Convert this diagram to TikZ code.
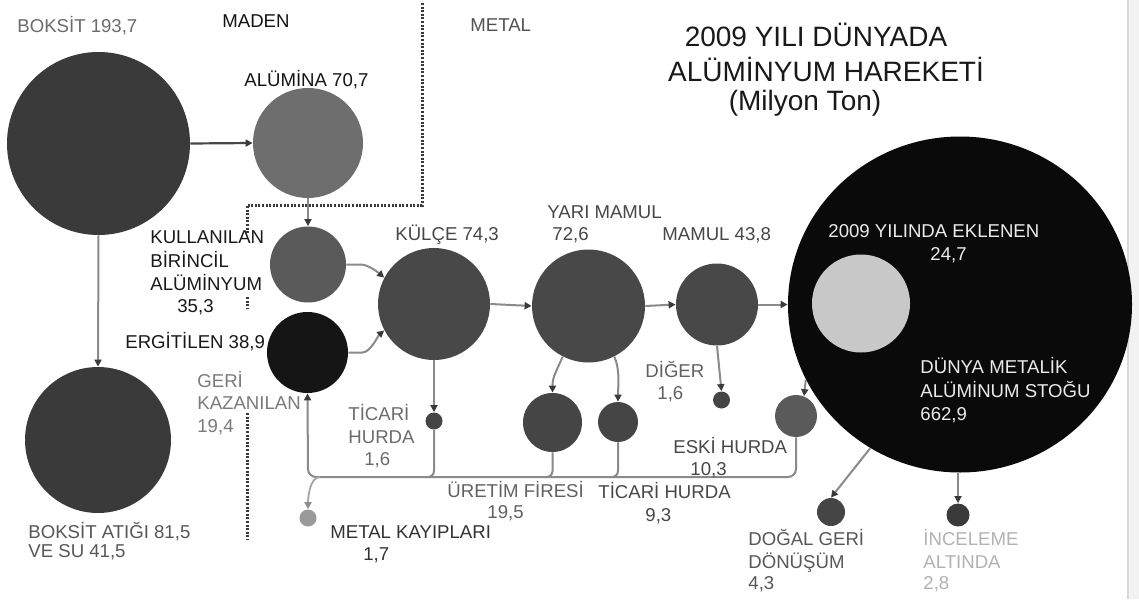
\documentclass[tikz,border=0pt]{standalone}
\usepackage{fontspec}
\setmainfont{Liberation Sans}
\usetikzlibrary{arrows.meta,shapes.geometric}
\definecolor{cBok}{HTML}{3A3A3A}
\definecolor{cAlu}{HTML}{6E6E6E}
\definecolor{cKul}{HTML}{5A5A5A}
\definecolor{cErg}{HTML}{151515}
\definecolor{cMid}{HTML}{484848}
\definecolor{cSmall}{HTML}{454545}
\definecolor{cEski}{HTML}{5A5A5A}
\definecolor{cLightB}{HTML}{9A9A9A}
\definecolor{cBlack}{HTML}{0A0A0A}
\definecolor{cInner}{HTML}{C8C8C8}
\definecolor{cConn}{HTML}{8A8A8A}
\definecolor{cTip}{HTML}{3A3A3A}
\definecolor{cDot}{HTML}{3A3A3A}
\begin{document}
\begin{tikzpicture}[x=0.5pt,y=-0.5pt,
  bub/.style={circle,inner sep=0pt,minimum size=#1pt,draw=none,fill=cSmall},
  lbl/.style={font=\fontsize{9.3}{11}\selectfont,inner sep=0pt,anchor=base west},
  ttl/.style={font=\fontsize{14}{16}\selectfont,inner sep=0pt,anchor=base,text=black!90},
  conn/.style={draw=cConn,line width=1pt},
  arr/.style={conn,-{Triangle[length=3.5pt,width=3.5pt,color=cTip]}},
  arrL/.style={draw=black!35,line width=0.9pt,-{Triangle[length=3.5pt,width=3.5pt,color=black!45]}},
  dots/.style={draw=cDot,line width=1.5pt,dash pattern=on 1pt off 0.8pt}
]
\useasboundingbox (0,0) rectangle (1139,599);
\fill[white] (0,0) rectangle (1139,599);
\fill[black!5] (1128,0) rectangle (1139,599);
\draw[black!15,line width=0.6pt] (1128,0) -- (1128,599);

% dotted boundary
\draw[dots] (422,3) -- (422,205) -- (247,205) -- (247,234);
\draw[dots] (247,297) -- (247,309);
\draw[dots] (247,413) -- (247,540);

% bubbles
\node[bub=91.5,fill=cBok] (boksit) at (98.5,143.5) {};
\node[bub=55,fill=cAlu] (alumina) at (308,143) {};
\node[bub=38,fill=cKul] (kull) at (308,264.5) {};
\node[bub=40.5,fill=cErg] (ergit) at (307.5,352.5) {};
\node[bub=73,fill=cBok] (atik) at (98,440) {};
\node[bub=56,fill=cMid] (kulce) at (434,304) {};
\node[bub=56.5,fill=cMid] (yari) at (588.5,306) {};
\node[bub=41,fill=cMid] (mamul) at (717,304.5) {};
\node[bub=8.5] (ticari16) at (434,421) {};
\node[bub=29.5] (uretim) at (552.5,422.5) {};
\node[bub=20] (ticari93) at (618,422) {};
\node[bub=8.5] (diger) at (721.5,400) {};
\node[bub=21,fill=cEski] (eski) at (796,416) {};
\node[bub=8.5,fill=cLightB] (kayip) at (308,518) {};
\node[ellipse,inner sep=0pt,minimum width=172pt,minimum height=168pt,fill=cBlack] (stok) at (960,304.5) {};
\node[bub=49,fill=cInner] (ekl) at (861,303.5) {};
\node[bub=14] (dogal) at (831,512) {};
\node[bub=11.5,fill=cBok] (incel) at (958,515) {};

% connectors
\draw[conn,draw=black!72,line width=1.1pt,-{Triangle[length=3.5pt,width=3.5pt,color=cTip]}] (boksit.east) -- (alumina.west);
\draw[arr] (boksit.south) -- (atik.north);
\draw[arr] (alumina.south) -- (kull.north);
\draw[arr] (kull.east) -- ++(14,0) .. controls +(8,0) and +(-6,-5) .. (kulce.152);
\draw[arr] (ergit.east) -- ++(14,0) .. controls +(8,0) and +(-6,5) .. (kulce.208);
\draw[arr] (kulce.east) -- (yari.west);
\draw[arr] (yari.east) -- (mamul.west);
\draw[arr] (mamul.east) -- (stok.west);
\draw[arr] (yari.243) .. controls +(-6,14) and +(0,-16) .. (uretim.north);
\draw[arr] (yari.297) .. controls +(6,14) and +(0,-16) .. (ticari93.north);
\draw[arr] (kulce.south) -- (ticari16.north);
\draw[arr] (mamul.south) -- (diger.north);
\draw[arr] (stok.206) -- (eski.68);
\draw[arr] (stok.238) -- (dogal.north);
\draw[arr] (stok.south -| incel) -- (incel.north);

% recycling loop
\coordinate (ll) at (308,477);
\coordinate (kb) at (320,477);
\draw[arr,rounded corners=4pt] (eski.south) -- (eski.south |- ll) -- (ll) -- (ergit.south);
\draw[conn,rounded corners=3pt] (ticari16.south) -- (ticari16.south |- ll) -- ++(-8,0);
\draw[conn,rounded corners=3pt] (uretim.south) -- (uretim.south |- ll) -- ++(-8,0);
\draw[conn,rounded corners=3pt] (ticari93.south) -- (ticari93.south |- ll) -- ++(-8,0);
\draw[arrL] (kb) .. controls +(-10,0) and +(0,-12) .. (kayip.north);

% title
\node[ttl] (t1) at (816,47) {2009 YILI DÜNYADA};
\node[ttl] (t2) at (826,82) {ALÜMİNYUM HAREKETİ};
\node[ttl] (t3) at (805,111) {(Milyon Ton)};

% labels
\node[lbl,text=black!58] (l1) at (17,33) {BOKSİT 193,7};
\node[lbl,text=black!92] (l2) at (222,28) {MADEN};
\node[lbl,text=black!68] (l3) at (470,32) {METAL};
\node[lbl,text=black!92] (l4) at (244,87) {ALÜMİNA 70,7};
\node[lbl,text=black!90] (l5a) at (150,243) {KULLANILAN};
\node[lbl,text=black!90] (l5b) at (150,267) {BİRİNCİL};
\node[lbl,text=black!90] (l5c) at (150,290) {ALÜMİNYUM};
\node[lbl,text=black!90] (l5d) at (177,312) {35,3};
\node[lbl,text=black!90] (l6) at (125,348) {ERGİTİLEN 38,9};
\node[lbl,text=black!52] (l7a) at (197,387) {GERİ};
\node[lbl,text=black!52] (l7b) at (197,409) {KAZANILAN};
\node[lbl,text=black!52] (l7c) at (197,432) {19,4};
\node[lbl,text=black!72] (l8) at (395,240) {KÜLÇE 74,3};
\node[lbl,text=black!72] (l9a) at (547,218) {YARI MAMUL};
\node[lbl,text=black!72] (l9b) at (552,240) {72,6};
\node[lbl,text=black!72] (l10) at (662,240) {MAMUL 43,8};
\node[lbl,text=black!62] (l11a) at (645,377) {DİĞER};
\node[lbl,text=black!62] (l11b) at (657,399) {1,6};
\node[lbl,text=black!58] (l12a) at (348,420) {TİCARİ};
\node[lbl,text=black!58] (l12b) at (348,443) {HURDA};
\node[lbl,text=black!58] (l12c) at (364,465) {1,6};
\node[lbl,text=black!62] (l13a) at (447,497) {ÜRETİM FİRESİ};
\node[lbl,text=black!62] (l13b) at (487,518) {19,5};
\node[lbl,text=black!72] (l14a) at (598,498) {TİCARİ HURDA};
\node[lbl,text=black!72] (l14b) at (645,521) {9,3};
\node[lbl,text=black!72] (l15a) at (673,453) {ESKİ HURDA};
\node[lbl,text=black!72] (l15b) at (690,475) {10,3};
\node[lbl,text=black!80] (l16a) at (330,538) {METAL KAYIPLARI};
\node[lbl,text=black!80] (l16b) at (363,560) {1,7};
\node[lbl,text=black!66] (l17a) at (28,538) {BOKSİT ATIĞI 81,5};
\node[lbl,text=black!66] (l17b) at (28,557) {VE SU 41,5};
\node[lbl,text=black!66] (l18a) at (748,545) {DOĞAL GERİ};
\node[lbl,text=black!66] (l18b) at (748,568) {DÖNÜŞÜM};
\node[lbl,text=black!66] (l18c) at (748,589) {4,3};
\node[lbl,text=black!30] (l19a) at (923,545) {İNCELEME};
\node[lbl,text=black!30] (l19b) at (923,568) {ALTINDA};
\node[lbl,text=black!30] (l19c) at (923,589) {2,8};
\node[lbl,text=white!92!black] (l20a) at (828,237) {2009 YILINDA EKLENEN};
\node[lbl,text=white!92!black] (l20b) at (930,260) {24,7};
\node[lbl,text=white!92!black] (l21a) at (920,373) {DÜNYA METALİK};
\node[lbl,text=white!92!black] (l21b) at (920,397) {ALÜMİNUM STOĞU};
\node[lbl,text=white!92!black] (l21c) at (920,420) {662,9};
\end{tikzpicture}
\end{document}
